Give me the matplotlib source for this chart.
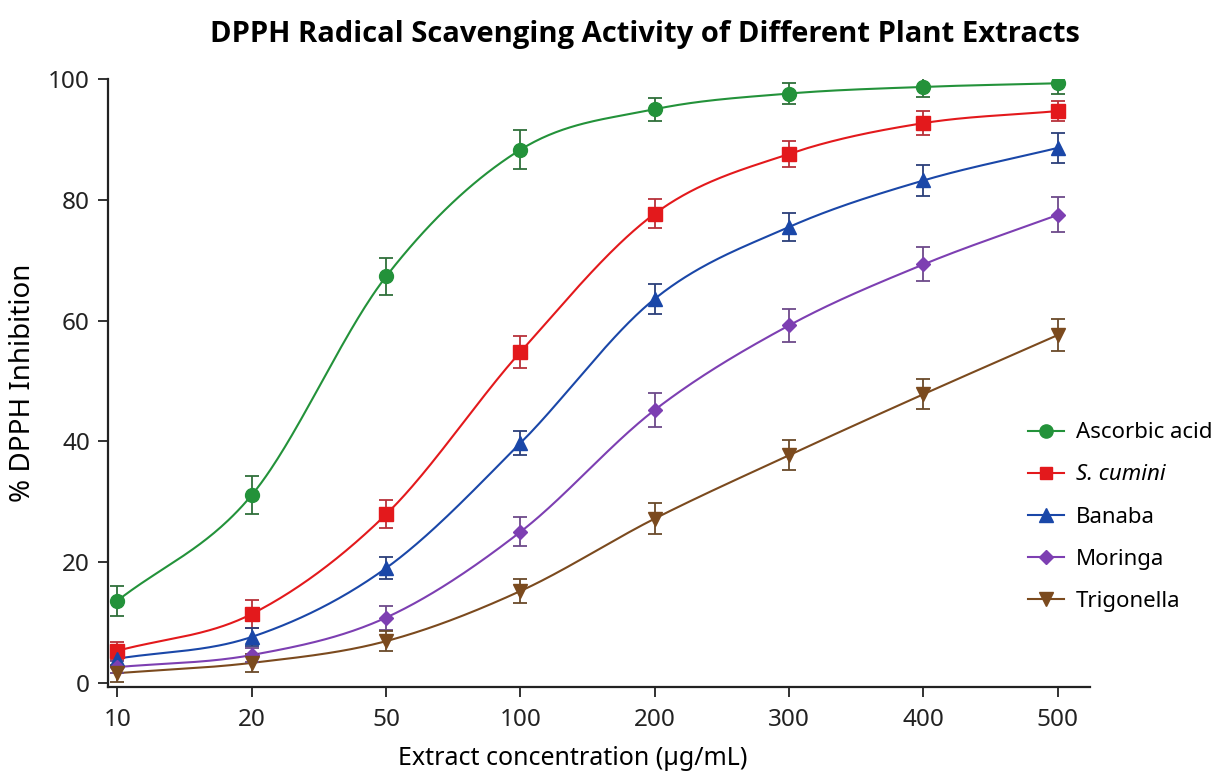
import numpy as np
import matplotlib
matplotlib.use('Agg')
import matplotlib.pyplot as plt

plt.rcParams['font.family'] = ['Noto Sans', 'DejaVu Sans']

# Données
concentrations = ['10', '20', '50', '100', '200', '300', '400', '500']
noms = ['Ascorbic acid', 'S. cumini', 'Banaba', 'Moringa', 'Trigonella']

ascorbique = [13.6, 31.1, 67.3, 88.3, 95.0, 97.6, 98.7, 99.3]
ascorbique_err = [2.5, 3.2, 3.1, 3.2, 1.9, 1.8, 1.7, 1.7]
cumini = [5.3, 11.4, 27.9, 54.8, 77.7, 87.6, 92.7, 94.7]
cumini_err = [1.5, 2.3, 2.3, 2.6, 2.4, 2.2, 2.0, 1.7]
banaba = [4.0, 7.6, 19.0, 39.7, 63.6, 75.5, 83.2, 88.6]
banaba_err = [1.2, 1.5, 1.8, 2.0, 2.5, 2.3, 2.5, 2.5]
moringa = [2.6, 4.6, 10.8, 25.0, 45.2, 59.2, 69.3, 77.5]
moringa_err = [1.0, 1.2, 2.0, 2.4, 2.8, 2.7, 2.8, 2.9]
trigonella = [1.6, 3.3, 6.9, 15.2, 27.2, 37.7, 47.8, 57.6]
trigonella_err = [1.4, 1.5, 1.7, 2.0, 2.5, 2.5, 2.5, 2.6]

series = [ascorbique, cumini, banaba, moringa, trigonella]
erreurs = [ascorbique_err, cumini_err, banaba_err, moringa_err, trigonella_err]
couleurs = ['#23923a', '#e3191c', '#1a47a8', '#7d3fb2', '#7b4a1e']
couleurs_err = ['#2f6f3a', '#b8323a', '#2b3f7a', '#6d4a8a', '#6a4a2a']
marqueurs = ['o', 's', '^', 'D', 'v']
tailles = [10, 9.5, 10, 7.5, 10]


def lisse(x, y, xn):
    """ Spline de Catmull-Rom passant par les points (pour le tracé seulement) """
    x = np.asarray(x, float)
    y = np.asarray(y, float)
    h = np.diff(x)
    m = np.zeros_like(y)
    m[1:-1] = (y[2:] - y[:-2]) / (x[2:] - x[:-2])
    m[0] = (y[1] - y[0]) / h[0]
    m[-1] = (y[-1] - y[-2]) / h[-1]
    i = np.clip(np.searchsorted(x, xn) - 1, 0, len(x) - 2)
    t = (xn - x[i]) / h[i]
    h00 = 2 * t**3 - 3 * t**2 + 1
    h10 = t**3 - 2 * t**2 + t
    h01 = -2 * t**3 + 3 * t**2
    h11 = t**3 - t**2
    return h00 * y[i] + h10 * h[i] * m[i] + h01 * y[i + 1] + h11 * h[i] * m[i + 1]


fig = plt.figure(figsize=(12.22, 7.75), dpi=100)
ax = fig.add_axes([0.0884, 0.1135, 0.8036, 0.7845])

xi = np.arange(len(concentrations))
xf = np.linspace(0, len(concentrations) - 1, 400)

handles = []
for k in range(len(series)):
    ax.plot(xf, lisse(xi, series[k], xf), color=couleurs[k], lw=1.5, zorder=2)
    ax.errorbar(xi, series[k], yerr=erreurs[k], fmt='none', ecolor=couleurs_err[k],
                elinewidth=1.3, capsize=5, capthick=1.3, zorder=3)
    ax.plot(xi, series[k], linestyle='none', marker=marqueurs[k], ms=tailles[k],
            color=couleurs[k], zorder=4)
    h, = ax.plot([], [], color=couleurs[k], marker=marqueurs[k], ms=tailles[k] * 0.95,
                 lw=1.5, label=noms[k])
    handles.append(h)

ax.set_xlim(-0.07, 7.24)
ax.set_ylim(-0.7, 100)
ax.set_xticks(xi)
ax.set_xticklabels(concentrations)
ax.set_yticks([0, 20, 40, 60, 80, 100])

for s in ['top', 'right']:
    ax.spines[s].set_visible(False)
for s in ['left', 'bottom']:
    ax.spines[s].set_linewidth(1.6)
    ax.spines[s].set_color('#222222')
ax.tick_params(axis='both', direction='out', length=7, width=1.3, labelsize=17.5,
               colors='#222222')
ax.tick_params(axis='x', pad=8)
ax.tick_params(axis='y', pad=6)

ax.set_xlabel('Extract concentration (µg/mL)', fontsize=18)
ax.xaxis.set_label_coords(0.4735, -0.097)
ax.set_ylabel('% DPPH Inhibition', fontsize=20, labelpad=8)
fig.text(0.528, 0.955, 'DPPH Radical Scavenging Activity of Different Plant Extracts',
         ha='center', va='center', fontsize=21, fontweight='bold',
         family=['Open Sans', 'DejaVu Sans'])

leg = ax.legend(handles=handles, loc='upper left', bbox_to_anchor=(0.928, 0.45),
                frameon=False, fontsize=16, handlelength=1.6, labelspacing=0.95,
                handletextpad=0.55, borderaxespad=0)
leg.get_texts()[1].set_fontstyle('italic')

fig.savefig('out.png', dpi=100)
